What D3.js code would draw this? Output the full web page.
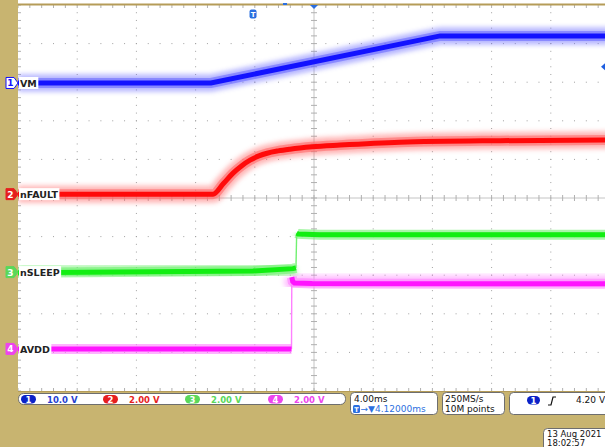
<!DOCTYPE html>
<head>
  <meta charset="utf-8">
  <script src="https://cdn.jsdelivr.net/npm/d3@7"></script>
  <style>
    body { margin:0; background:#c8b470; }
    svg { display:block; }
    text { font-family: "DejaVu Sans", sans-serif; }
  </style>
</head>
<body>
<script>
// time in ms (trigger at 0), volts per channel
const vmTime     = [-15.88, -2.84, 12.64, 24.12];
const vmVolts    = [0, 0, 12.2, 12.2];
const faultTime  = [-15.88, -2.70, -2.0, -1.35, -0.80, -0.20, 0.40, 0.95, 1.70, 2.50, 4.0, 5.88, 9.93, 16.69, 24.12];
const faultVolts = [0, 0, 0.55, 1.09, 1.45, 1.76, 1.98, 2.12, 2.24, 2.33, 2.45, 2.54, 2.69, 2.77, 2.80];
const sleepTime  = [-15.88, 0, 2.70, 2.90, 2.95, 3.05, 4.5, 24.12];
const sleepVolts = [-0.03, 0.06, 0.18, 0.22, 2.02, 1.98, 1.94, 1.94];
const avddTime   = [-15.88, 2.60, 2.62, 2.68, 2.80, 4.0, 24.12];
const avddVolts  = [0, 0, 3.72, 3.50, 3.42, 3.39, 3.38];

const channels = [
  { name: "VM",     num: "1", t: vmTime,    v: vmVolts,    vdiv: 10, pos: 2.98,  smooth: false, color: "#1212ff", halo: "#6a6aff", label: "#1f3fd0", scale: "10.0 V" },
  { name: "nFAULT", num: "2", t: faultTime, v: faultVolts, vdiv: 2,  pos: 0.10,  smooth: true,  color: "#ff0a0a", halo: "#ff6a6a", label: "#e61e1e", scale: "2.00 V" },
  { name: "nSLEEP", num: "3", t: sleepTime, v: sleepVolts, vdiv: 2,  pos: -1.92, smooth: false, color: "#12ee12", halo: "#70f070", label: "#5ad85a", scale: "2.00 V" },
  { name: "AVDD",   num: "4", t: avddTime,  v: avddVolts,  vdiv: 2,  pos: -3.91, smooth: false, color: "#ff14ff", halo: "#ff80ff", label: "#ee44ee", scale: "2.00 V" }
];

const W = 605, H = 447;
const gx0 = 18, gx1 = 610, gy0 = 5, gy1 = 391;

const svg = d3.select("body").append("svg").attr("width", W).attr("height", H);

const x = d3.scaleLinear().domain([-15.88, 24.12]).range([gx0, gx1]);
const yDiv = d3.scaleLinear().domain([-5, 5]).range([gy1, gy0]);
const xDiv = d3.scaleLinear().domain([-5, 5]).range([gx0, gx1]);

const defs = svg.append("defs");
defs.append("clipPath").attr("id", "grat").append("rect")
  .attr("x", gx0).attr("y", gy0).attr("width", gx1 - gx0).attr("height", gy1 - gy0);
defs.append("filter").attr("id", "blur").attr("x", "-10%").attr("y", "-50%").attr("width", "120%").attr("height", "200%")
  .append("feGaussianBlur").attr("stdDeviation", 2.6);

// background
svg.append("rect").attr("width", W).attr("height", H).attr("fill", "#c8b470");
svg.append("rect").attr("x", gx0).attr("y", 0).attr("width", W - gx0).attr("height", gy0).attr("fill", "#fff");
svg.append("rect").attr("x", gx0).attr("y", gy0).attr("width", gx1 - gx0).attr("height", gy1 - gy0).attr("fill", "#fff");

// graticule
const grid = svg.append("g").attr("clip-path", "url(#grat)");
const sub = d3.range(-5, 5.01, 0.2);
[-4, -3, -2, -1, 1, 2, 3, 4].forEach(d => {
  grid.selectAll(null).data(sub).enter().append("rect")
    .attr("x", xDiv(d) - 0.5).attr("y", s => yDiv(s) - 0.5).attr("width", 1).attr("height", 1).attr("fill", "#a0a0a0");
  grid.selectAll(null).data(sub).enter().append("rect")
    .attr("x", s => xDiv(s) - 0.5).attr("y", yDiv(d) - 0.5).attr("width", 1).attr("height", 1).attr("fill", "#a0a0a0");
});
grid.append("line").attr("x1", gx0).attr("x2", gx1).attr("y1", yDiv(0)).attr("y2", yDiv(0)).attr("stroke", "#c4c4c4");
grid.append("line").attr("x1", xDiv(0)).attr("x2", xDiv(0)).attr("y1", gy0).attr("y2", gy1).attr("stroke", "#c4c4c4");
grid.selectAll(null).data(sub).enter().append("line")
  .attr("x1", s => xDiv(s)).attr("x2", s => xDiv(s)).attr("y1", yDiv(0) - 3).attr("y2", yDiv(0) + 3).attr("stroke", "#b0b0b0");
grid.selectAll(null).data(sub).enter().append("line")
  .attr("y1", s => yDiv(s)).attr("y2", s => yDiv(s)).attr("x1", xDiv(0) - 3).attr("x2", xDiv(0) + 3).attr("stroke", "#b0b0b0");
// border ticks
grid.selectAll(null).data(sub).enter().append("line")
  .attr("x1", s => xDiv(s)).attr("x2", s => xDiv(s)).attr("y1", gy0).attr("y2", gy0 + 3).attr("stroke", "#b0b0b0");
grid.selectAll(null).data(sub).enter().append("line")
  .attr("x1", s => xDiv(s)).attr("x2", s => xDiv(s)).attr("y1", gy1 - 3).attr("y2", gy1).attr("stroke", "#b0b0b0");
grid.selectAll(null).data(sub).enter().append("line")
  .attr("y1", s => yDiv(s)).attr("y2", s => yDiv(s)).attr("x1", gx0).attr("x2", gx0 + 3).attr("stroke", "#b0b0b0");
svg.append("line").attr("x1", gx0).attr("x2", W).attr("y1", gy0 - 0.5).attr("y2", gy0 - 0.5).attr("stroke", "#b59c58").attr("stroke-width", 2);
svg.append("line").attr("x1", gx0).attr("x2", W).attr("y1", gy1 + 0.5).attr("y2", gy1 + 0.5).attr("stroke", "#b59c58").attr("stroke-width", 1);

// traces
const traces = svg.append("g").attr("clip-path", "url(#grat)");

channels.forEach(ch => {
  const y = d3.scaleLinear().domain([0, ch.vdiv]).range([yDiv(ch.pos), yDiv(ch.pos + 1)]);
  const line = d3.line().curve(ch.smooth ? d3.curveMonotoneX : d3.curveLinear);
  const pts = ch.t.map((t, i) => [x(t), y(ch.v[i])]);
  // split into slow runs and fast edges
  const runs = [], edges = [];
  let cur = [pts[0]];
  for (let i = 1; i < pts.length; i++) {
    const a = pts[i - 1], b = pts[i];
    if (Math.abs(b[1] - a[1]) > 6 && Math.abs(b[0] - a[0]) < 3) {
      runs.push(cur); edges.push([a, b]); cur = [b];
    } else cur.push(b);
  }
  runs.push(cur);
  const g = traces.append("g");
  edges.forEach(e => {
    g.append("line").attr("x1", e[0][0]).attr("y1", e[0][1]).attr("x2", e[1][0]).attr("y2", e[1][1])
      .attr("stroke", ch.halo).attr("stroke-width", 1.4);
  });
  runs.filter(r => r.length > 1).forEach(r => {
    g.append("path").attr("d", line(r)).attr("fill", "none").attr("stroke", ch.halo)
      .attr("stroke-width", 17).attr("opacity", 0.5).attr("filter", "url(#blur)");
    g.append("path").attr("d", line(r)).attr("fill", "none").attr("stroke", ch.halo)
      .attr("stroke-width", 10).attr("opacity", 0.6);
    g.append("path").attr("d", line(r)).attr("fill", "none").attr("stroke", ch.color)
      .attr("stroke-width", 5);
  });
  ch.y0 = yDiv(ch.pos);
});

// channel labels and ground markers
channels.forEach((ch, i) => {
  const yy = ch.y0;
  const bg = svg.append("rect").attr("x", gx0 + 1).attr("y", yy - 6).attr("height", 12).attr("fill", "#fff");
  const t = svg.append("text").attr("x", gx0 + 2).attr("y", yy + 4).attr("font-size", 9.5).attr("font-weight", "bold")
    .attr("fill", "#222").text(ch.name);
  bg.attr("width", t.node().getComputedTextLength() + 2.5);
  const mk = svg.append("g").attr("transform", `translate(6,${yy})`);
  mk.append("path").attr("d", "M0,-5.5 H8 L12,0 L8,5.5 H0 Z")
    .attr("fill", i === 0 ? "#fff" : ch.label).attr("stroke", i === 0 ? ch.color : ch.label).attr("stroke-width", 1);
  mk.append("text").attr("x", 4.5).attr("y", 3.5).attr("text-anchor", "middle").attr("font-size", 9)
    .attr("font-weight", "bold").attr("fill", i === 0 ? ch.color : "#fff").text(ch.num);
});

// top markers: trigger point and expansion point
const tm = svg.append("g").attr("transform", `translate(${x(0)},14)`);
tm.append("rect").attr("x", -3.5).attr("y", -4.5).attr("width", 7).attr("height", 9).attr("rx", 2).attr("fill", "#2b6fe0");
tm.append("text").attr("y", 3).attr("text-anchor", "middle").attr("font-size", 7).attr("font-weight", "bold").attr("fill", "#fff").text("T");
svg.append("path").attr("d", `M${xDiv(0) - 4},${gy0} H${xDiv(0) + 4} L${xDiv(0)},${gy0 + 4} Z`).attr("fill", "#2b6fe0");
svg.append("rect").attr("x", 283).attr("y", 3).attr("width", 4).attr("height", 2).attr("fill", "#2b6fe0");
// trigger level marker on right edge
const trigY = d3.scaleLinear().domain([0, 10]).range([yDiv(2.98), yDiv(3.98)])(4.2);
svg.append("path").attr("d", `M${W - 4},${trigY} L${W},${trigY - 3.5} L${W},${trigY + 3.5} Z`).attr("fill", "#1f5fe0");

// readout bar
svg.append("rect").attr("x", 18.5).attr("y", 393.5).attr("width", 327).attr("height", 11).attr("rx", 5)
  .attr("fill", "#fff").attr("stroke", "#6e6e6e");
const pillX = [21, 103, 185, 268];
channels.forEach((ch, i) => {
  svg.append("rect").attr("x", pillX[i]).attr("y", 395).attr("width", 15).attr("height", 8.5).attr("rx", 4.2)
    .attr("fill", i === 0 ? "#0b22c8" : ch.label);
  svg.append("text").attr("x", pillX[i] + 7.5).attr("y", 402.5).attr("text-anchor", "middle").attr("font-size", 8.5)
    .attr("font-weight", "bold").attr("fill", "#fff").text(ch.num);
  svg.append("text").attr("x", pillX[i] + 26).attr("y", 402.5).attr("font-size", 8.5).attr("font-weight", "bold")
    .attr("fill", ch.label).text(ch.scale);
});

function box(x0, y0, w, h) {
  svg.append("rect").attr("x", x0 + 0.5).attr("y", y0 + 0.5).attr("width", w).attr("height", h).attr("rx", 4)
    .attr("fill", "#fff").attr("stroke", "#6e6e6e");
}
box(350, 392, 87, 22);
svg.append("text").attr("x", 354).attr("y", 402).attr("font-size", 9).attr("fill", "#111").text("4.00ms");
svg.append("rect").attr("x", 353).attr("y", 405).attr("width", 7).attr("height", 8).attr("rx", 1.5).attr("fill", "#2b6fe0");
svg.append("text").attr("x", 356.5).attr("y", 411.5).attr("text-anchor", "middle").attr("font-size", 6.5)
  .attr("font-weight", "bold").attr("fill", "#fff").text("T");
svg.append("text").attr("x", 360.5).attr("y", 412).attr("font-size", 9).attr("fill", "#2b6fe0").text("→▼4.12000ms");

box(442, 392, 62, 22);
svg.append("text").attr("x", 445).attr("y", 402).attr("font-size", 9).attr("fill", "#111").text("250MS/s");
svg.append("text").attr("x", 445).attr("y", 412).attr("font-size", 9).attr("fill", "#111").text("10M points");

box(509, 392, 110, 22);
svg.append("rect").attr("x", 527).attr("y", 396).attr("width", 13).attr("height", 8.5).attr("rx", 4.2).attr("fill", "#0b22c8");
svg.append("text").attr("x", 533.5).attr("y", 403.5).attr("text-anchor", "middle").attr("font-size", 8.5)
  .attr("font-weight", "bold").attr("fill", "#fff").text("1");
svg.append("path").attr("d", "M548,405 L551,405 L553,397 L556,397").attr("fill", "none").attr("stroke", "#111").attr("stroke-width", 1.2);
svg.append("text").attr("x", 576).attr("y", 403).attr("font-size", 9).attr("fill", "#111").text("4.20 V");

box(543, 428, 80, 24);
svg.append("text").attr("x", 547).attr("y", 437).attr("font-size", 8.5).attr("fill", "#111").text("13 Aug 2021");
svg.append("text").attr("x", 547).attr("y", 446).attr("font-size", 8.5).attr("fill", "#111").text("18:02:57");
</script>
</body>
